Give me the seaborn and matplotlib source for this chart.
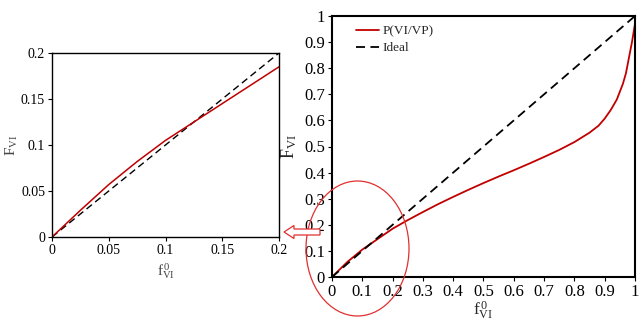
import matplotlib
matplotlib.use("Agg")
import matplotlib.pyplot as plt
import seaborn as sns
import pandas as pd
from matplotlib.patches import Ellipse, FancyArrow

# ---- data ----
zoom_x = [0, 0.025, 0.05, 0.075, 0.1, 0.125, 0.15, 0.175, 0.2]
zoom_y = [0, 0.029, 0.057, 0.082, 0.105, 0.125, 0.145, 0.165, 0.185]

full_x = [0, 0.05, 0.1, 0.15, 0.2, 0.25, 0.3, 0.35, 0.4, 0.45, 0.5, 0.55, 0.6,
          0.65, 0.7, 0.75, 0.8, 0.85, 0.88, 0.9, 0.92, 0.94, 0.96, 0.97, 0.98,
          0.99, 1.0]
full_y = [0, 0.057, 0.105, 0.145, 0.185, 0.218, 0.249, 0.279, 0.307, 0.334,
          0.360, 0.385, 0.409, 0.434, 0.46, 0.487, 0.517, 0.553, 0.58, 0.607,
          0.64, 0.68, 0.74, 0.78, 0.84, 0.90, 0.97]

ideal_x = [0, 1]
ideal_y = [0, 1]

left_ticks = [0, 0.05, 0.1, 0.15, 0.2]
left_ticklabels = ["0", "0.05", "0.1", "0.15", "0.2"]
right_ticks = [0, 0.1, 0.2, 0.3, 0.4, 0.5, 0.6, 0.7, 0.8, 0.9, 1.0]
right_ticklabels = ["0", "0.1", "0.2", "0.3", "0.4", "0.5", "0.6", "0.7", "0.8", "0.9", "1"]

series_name = "P(VI/VP)"
ideal_name = "Ideal"

sns.set_theme(style="white")
plt.rcParams["font.family"] = ["Liberation Serif", "DejaVu Serif"]
plt.rcParams["mathtext.fontset"] = "custom"
plt.rcParams["mathtext.rm"] = "Liberation Serif"
plt.rcParams["mathtext.it"] = "Liberation Serif:italic"

RED = "#c00000"

fig = plt.figure(figsize=(6.39, 3.23), dpi=100)

ax1 = fig.add_axes([52/639, (323-237)/323, 227/639, 184/323])
ax2 = fig.add_axes([332/639, (323-277)/323, 303/639, 261/323])

df_zoom = pd.DataFrame({"x": zoom_x, "y": zoom_y})
df_full = pd.DataFrame({"x": full_x, "y": full_y})
df_ideal = pd.DataFrame({"x": ideal_x, "y": ideal_y})

# left (zoom) plot
sns.lineplot(data=df_ideal, x="x", y="y", ax=ax1, color="black", lw=1.0,
             linestyle=(0, (5, 3)))
sns.lineplot(data=df_zoom, x="x", y="y", ax=ax1, color=RED, lw=1.1)
ax1.set_xlim(0, 0.2)
ax1.set_ylim(0, 0.2)
ax1.set_xticks(left_ticks)
ax1.set_xticklabels(left_ticklabels)
ax1.set_yticks(left_ticks)
ax1.set_yticklabels(left_ticklabels)
ax1.set_xlabel(r"$\mathregular{f^{\,0}_{VI}}$", fontsize=11, color="#444444", labelpad=3)
ax1.set_ylabel(r"$\mathregular{F_{VI}}$", fontsize=11, color="#444444", labelpad=1)

# right (full) plot
sns.lineplot(data=df_full, x="x", y="y", ax=ax2, color=RED, lw=1.3, label=series_name)
sns.lineplot(data=df_ideal, x="x", y="y", ax=ax2, color="black", lw=1.3,
             linestyle=(0, (5, 3)), label=ideal_name)
ax2.set_xlim(0, 1)
ax2.set_ylim(0, 1)
ax2.set_xticks(right_ticks)
ax2.set_xticklabels(right_ticklabels)
ax2.set_yticks(right_ticks)
ax2.set_yticklabels(right_ticklabels)
ax2.set_xlabel(r"$\mathregular{f^{\,0}_{VI}}$", fontsize=12.5, labelpad=0)
ax2.set_ylabel(r"$\mathregular{F_{VI}}$", fontsize=13, labelpad=4)
leg = ax2.legend(loc="upper left", frameon=False, fontsize=9.5, handlelength=1.7,
                 borderaxespad=0.3, bbox_to_anchor=(0.05, 1.0), labelspacing=0.35,
                 handletextpad=0.25)

for ax, fs, lw in [(ax1, 10, 1.0), (ax2, 12, 1.5)]:
    for s in ax.spines.values():
        s.set_visible(True)
        s.set_color("black")
        s.set_linewidth(lw)
    ax.tick_params(axis="both", which="major", direction="out", length=3,
                   width=0.8, labelsize=fs, pad=2, left=True, bottom=True,
                   colors="black")
    ax.grid(False)

# decorations: ellipse and hollow arrow, in pixel space
deco = fig.add_axes([0, 0, 1, 1], zorder=10)
deco.set_xlim(0, 639)
deco.set_ylim(323, 0)
deco.axis("off")
deco.patch.set_alpha(0)
deco.add_patch(Ellipse((357.5, 248.5), 103, 135, fill=False, edgecolor="#e03030", lw=0.9))
deco.add_patch(FancyArrow(320, 232, -36, 0, width=6, head_width=13, head_length=10,
                          length_includes_head=True, facecolor="white",
                          edgecolor="#e03030", lw=0.9))

fig.savefig("out.png", dpi=100)
